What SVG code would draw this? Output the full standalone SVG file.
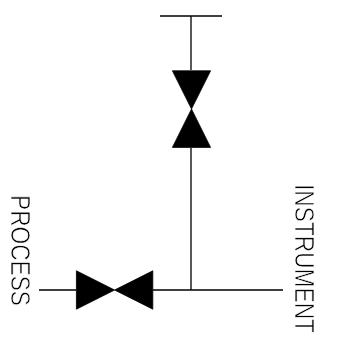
<svg xmlns="http://www.w3.org/2000/svg" width="338" height="350" viewBox="0 0 338 350">
<defs><filter id="n" x="-5%" y="-5%" width="110%" height="110%" filterUnits="objectBoundingBox"><feOffset dx="0" dy="0"/></filter></defs>
<style>
.l{stroke:#000;stroke-width:1.3;fill:none}
.v{fill:#000;stroke:#000;stroke-width:.8;stroke-linejoin:miter}
.t{font-family:"Liberation Sans",Arial,sans-serif;font-size:28px;fill:#000;stroke:#fff;stroke-width:.7}
</style>
<rect width="338" height="350" fill="#fff"/>
<g id="connectors">
<path class="l" d="M39 290H76M153 290H283"/>
<path class="l" d="M191 290V148M191 70V16M160 16H222"/>
</g>
<g id="valve-horizontal"><path class="v" d="M76.400 270.800L114.600 290L76.400 309.200ZM152.800 270.800L114.600 290L152.800 309.200Z"/></g>
<g id="valve-vertical"><path class="v" d="M172.400 70.800H210.600L191.500 109ZM172.400 147.400H210.600L191.500 109Z"/></g>
<g id="label-process" filter="url(#n)"><text class="t" transform="translate(10.500 195) rotate(90)" textLength="111" lengthAdjust="spacingAndGlyphs">PROCESS</text></g>
<g id="label-instrument" filter="url(#n)"><text class="t" transform="translate(295 184) rotate(90)" textLength="149" lengthAdjust="spacingAndGlyphs">INSTRUMENT</text></g>
</svg>
